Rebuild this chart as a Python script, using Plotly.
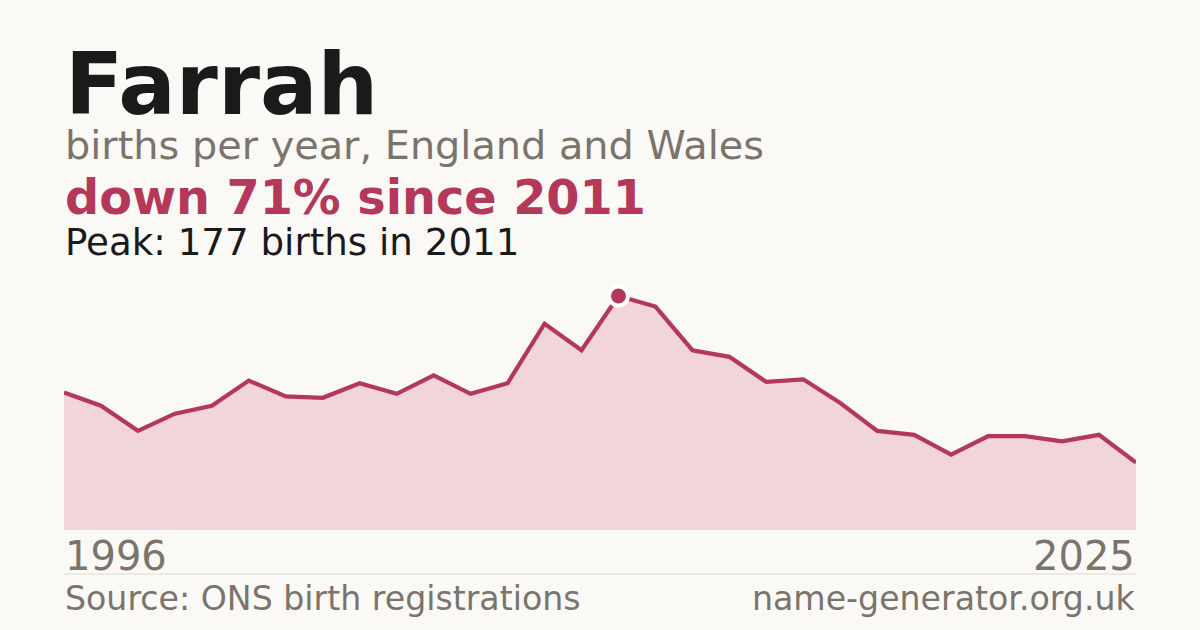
import plotly.graph_objects as go

# births per year for the name
years = list(range(1996, 2026))
births = [104, 94, 75, 88, 94, 113, 101, 100, 111, 103,
          117, 103, 111, 156, 136, 177, 169, 136, 131, 112,
          114, 96, 75, 72, 57, 71, 71, 67, 72, 51]

peak_year = 2011
peak_births = 177

bg = "#faf9f5"
crimson = "#b3385a"
grey = "#7a746d"
font = "DejaVu Sans"

W, H = 1200, 630
top_px, bottom_px = 296, 530


def py(px):
    # pixel row -> paper fraction
    return 1 - px / H


fig = go.Figure()

fig.add_trace(go.Scatter(
    x=years, y=births,
    mode="lines",
    line=dict(color=crimson, width=4.2),
    fill="tozeroy",
    fillcolor="#f1d5da",
    cliponaxis=False,
    hoverinfo="skip",
))

fig.add_trace(go.Scatter(
    x=[peak_year], y=[peak_births],
    mode="markers",
    marker=dict(size=19, color=crimson, line=dict(color="white", width=4)),
    cliponaxis=False,
    hoverinfo="skip",
))

fig.update_layout(
    width=W, height=H,
    paper_bgcolor=bg, plot_bgcolor=bg,
    margin=dict(l=64, r=64, t=0, b=0),
    showlegend=False,
    xaxis=dict(range=[years[0], years[-1]], visible=False, fixedrange=True),
    yaxis=dict(range=[0, peak_births], visible=False, fixedrange=True,
               domain=[py(bottom_px), py(top_px)]),
)

texts = [
    ("Farrah", 0, "left", 85, 85.3, "#1a1a1a", True),
    ("births per year, England and Wales", 0, "left", 145, 39.8, grey, False),
    ("down 71% since 2011", 0, "left", 197, 47.7, crimson, True),
    ("Peak: 177 births in 2011", 0, "left", 242, 37.2, "#1a1a1a", False),
    ("1996", 0, "left", 556, 40, grey, False),
    ("2025", 1, "right", 556, 40, grey, False),
    ("Source: ONS birth registrations", 0, "left", 598, 33.2, grey, False),
    ("name-generator.org.uk", 1, "right", 598, 33.2, grey, False),
]
for txt, x, anchor, ypx, size, color, bold in texts:
    fig.add_annotation(
        text="<b>%s</b>" % txt if bold else txt,
        xref="paper", yref="paper", x=x, y=py(ypx),
        xanchor=anchor, yanchor="middle", showarrow=False, borderpad=0,
        font=dict(family=font, size=size, color=color),
    )

# thin divider above the footer
fig.add_shape(type="line", xref="paper", yref="paper",
              x0=0, x1=1, y0=py(574), y1=py(574),
              line=dict(color="#dedbd5", width=1))

# drop the page margin so the figure sits at the window's corner
fig.write_html("out.html", config={"displayModeBar": False},
               post_script="document.body.style.margin='0';")
